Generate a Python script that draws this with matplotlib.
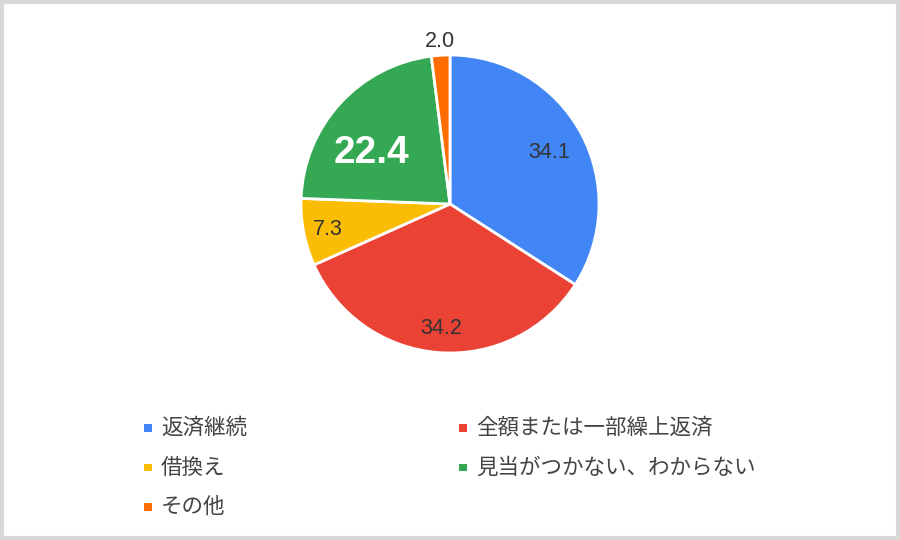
import numpy as np
import matplotlib.pyplot as plt
from matplotlib.patches import Rectangle

plt.rcParams['font.family'] = ['Liberation Sans', 'Noto Sans CJK JP', 'DejaVu Sans']

# データ
labels = ["返済継続", "全額または一部繰上返済", "借換え", "見当がつかない、わからない", "その他"]
values = [34.1, 34.2, 7.3, 22.4, 2.0]
colors = ["#4285F4", "#EA4335", "#FBBC04", "#34A853", "#FF6D01"]

# ラベルの置き方 (半径比, 角度補正, 文字サイズ, 色, 太さ)
label_style = [
    (0.755, 0.0, 15.5, '#333333', 'normal'),
    (0.823, 0.0, 15.5, '#333333', 'normal'),
    (0.838, 0.0, 15.5, '#333333', 'normal'),
    (0.646, 7.5, 28, 'white', 'bold'),
    (1.11, 0.0, 15.5, '#333333', 'normal'),
]

cx, cy, R = 450, 540 - 204, 149

fig = plt.figure(figsize=(9, 5.4), dpi=100)
ax = fig.add_axes([0, 0, 1, 1])

wedges, texts = ax.pie(values, colors=colors, startangle=90, counterclock=False,
                       center=(cx, cy), radius=R,
                       wedgeprops=dict(edgecolor='white', linewidth=2))
ax.set_xlim(0, 900)
ax.set_ylim(0, 540)
ax.set_aspect('equal')
ax.axis('off')

# 数値ラベル
total = sum(values)
start = 90.0
for v, (r, da, fs, col, fw) in zip(values, label_style):
    mid = np.deg2rad(start - v / total * 360 / 2 + da)
    start -= v / total * 360
    fs_px = fs * 100 / 72
    ax.text(cx + r * R * np.cos(mid), cy + r * R * np.sin(mid) - 0.358 * fs_px,
            f"{v:.1f}", ha='center', va='baseline', fontsize=fs, color=col,
            fontweight=fw)

# 凡例 (2列)
for k, lab in enumerate(labels):
    row, c = k // 2, k % 2
    x = 148 + c * 315
    y = 540 - 428 - row * 39.5
    ax.scatter([x], [y], marker='s', s=33, color=colors[k], edgecolors='none')
    ax.text(x + 13, y, lab, ha='left', va='center', fontsize=15.5,
            color='#444444', family=['Noto Sans CJK JP', 'DejaVu Sans'])

fig.patches.append(Rectangle((0.002, 0.003), 0.996, 0.994, transform=fig.transFigure,
                             fill=False, edgecolor='#d9d9d9', linewidth=3))

fig.savefig("out.png", dpi=100)
